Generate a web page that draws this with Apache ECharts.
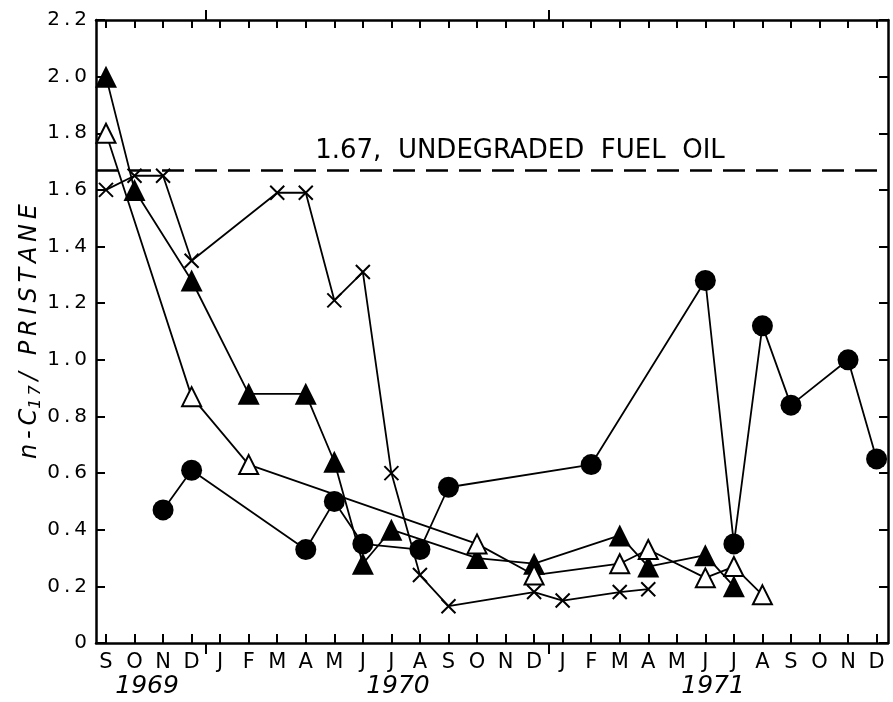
<!DOCTYPE html>
<html>
<head>
<meta charset="utf-8">
<script src="https://cdn.jsdelivr.net/npm/echarts@6/dist/echarts.min.js"></script>
<style>
  html, body { margin: 0; padding: 0; background: #fff; }
  #chart { width: 893px; height: 702px; }
</style>
</head>
<body>
<div id="chart"></div>
<script>
  // months from Sep 1969 (index 0) to Dec 1971 (index 27)
  var monthLabels = ['S','O','N','D','J','F','M','A','M','J','J','A',
                     'S','O','N','D','J','F','M','A','M','J','J','A',
                     'S','O','N','D'];
  var yearLabels = ['1969', '1970', '1971'];
  var yearPositions = [1.44, 10.23, 21.27];
  var yearBreaks = [3.5, 15.5];

  // [month index, n-C17/pristane]
  var circleData = [[2,0.47],[3,0.61],[7,0.33],[8,0.50],[9,0.35],[11,0.33],[12,0.55],
                    [17,0.63],[21,1.28],[22,0.35],[23,1.12],[24,0.84],[26,1.00],[27,0.65]];
  var filledTriData = [[0,2.00],[1,1.60],[3,1.28],[5,0.88],[7,0.88],[8,0.64],[9,0.28],[10,0.40],
                       [13,0.30],[15,0.28],[18,0.38],[19,0.27],[21,0.31],[22,0.20]];
  var openTriData = [[0,1.80],[3,0.87],[5,0.63],[13,0.35],[15,0.24],[18,0.28],[19,0.33],
                     [21,0.23],[22,0.27],[23,0.17]];
  var crossData = [[0,1.60],[1,1.65],[2,1.65],[3,1.35],[6,1.59],[7,1.59],[8,1.21],[9,1.31],
                   [10,0.60],[11,0.24],[12,0.13],[15,0.18],[16,0.15],[18,0.18],[19,0.19]];
  var fuelOilRatio = 1.67;

  var monthIdx = monthLabels.map(function(_, i) { return i; });
  var font = 'DejaVu Sans';
  var xMin = -0.35, xMax = 27.4;
  var thin = '\u2009';

  // spread letters a bit, like the hand lettering
  function spaced(s) { return s.split('').join(thin); }

  function makeSeries(name, data, symbol, size, itemStyle) {
    return {
      name: name,
      type: 'line',
      data: data,
      symbol: symbol,
      symbolSize: size,
      showAllSymbol: true,
      lineStyle: { color: '#000', width: 1.8 },
      itemStyle: itemStyle,
      animation: false,
      z: 3
    };
  }

  var chart = echarts.init(document.getElementById('chart'));
  var series = [
    makeSeries('circle', circleData, 'circle', 21, { color: '#000' }),
    makeSeries('filled', filledTriData, 'triangle', 22, { color: '#000' }),
    makeSeries('open', openTriData, 'triangle', 19, { color: '#fff', borderColor: '#000', borderWidth: 2 }),
    makeSeries('cross', crossData, 'path://M0,0L10,10M10,0L0,10', 14,
      { color: 'rgba(0,0,0,0)', borderColor: '#000', borderWidth: 2 })
  ];
  series[0].markLine = {
    symbol: 'none',
    silent: true,
    animation: false,
    lineStyle: { color: '#000', width: 2.5, type: [22, 11] },
    label: {
      show: true,
      position: 'insideMiddleTop',
      formatter: '1.67,  UNDEGRADED  FUEL  OIL',
      color: '#000',
      fontFamily: font,
      fontSize: 26,
      distance: 6,
      padding: [0, 0, 0, 66]
    },
    data: [[{ coord: [xMin, fuelOilRatio] }, { coord: [27.05, fuelOilRatio] }]]
  };

  function xAxisBase(pos) {
    return {
      type: 'value', position: pos, min: xMin, max: xMax,
      axisLine: { show: false, onZero: false },
      splitLine: { show: false }
    };
  }

  var xBottom = xAxisBase('bottom');
  xBottom.axisLine = { show: true, onZero: false, lineStyle: { color: '#000', width: 2.5 } };
  xBottom.axisTick = { show: true, inside: true, length: 9, customValues: monthIdx,
                       lineStyle: { color: '#000', width: 2 } };
  xBottom.axisLabel = { show: true, customValues: monthIdx, margin: 9, color: '#000',
                        fontFamily: font, fontSize: 21,
                        formatter: function(v) { return monthLabels[Math.round(v)]; } };

  var xTop = xAxisBase('top');
  xTop.axisLine = { show: true, onZero: false, lineStyle: { color: '#000', width: 2.5 } };
  xTop.axisTick = { show: true, inside: true, length: 8, customValues: monthIdx,
                    lineStyle: { color: '#000', width: 2 } };
  xTop.axisLabel = { show: false };

  var xYears = xAxisBase('bottom');
  xYears.axisTick = { show: true, inside: false, length: 11, customValues: yearBreaks,
                      lineStyle: { color: '#000', width: 2 } };
  xYears.axisLabel = { show: true, customValues: yearPositions, margin: 31, color: '#000',
                       fontFamily: font, fontSize: 25, fontStyle: 'italic',
                       formatter: function(v) { return yearLabels[yearPositions.indexOf(v)]; } };

  var xYearsTop = xAxisBase('top');
  xYearsTop.axisTick = { show: true, inside: false, length: 10, customValues: yearBreaks,
                         lineStyle: { color: '#000', width: 2 } };
  xYearsTop.axisLabel = { show: false };

  chart.setOption({
    backgroundColor: '#fff',
    grid: { left: 96, right: 5, top: 20, bottom: 59 },
    xAxis: [xBottom, xTop, xYears, xYearsTop],
    yAxis: [
      {
        type: 'value', position: 'left', min: 0, max: 2.2, interval: 0.2,
        name: '{a|' + spaced('n-C') + '}{b|' + spaced('17') + '}{a|' + thin + spaced('/ PRISTANE') + '}',
        nameLocation: 'middle', nameGap: 52, nameMoveOverlap: false,
        nameTextStyle: {
          color: '#000',
          rich: {
            a: { fontFamily: font, fontSize: 24, fontStyle: 'italic', color: '#000' },
            b: { fontFamily: font, fontSize: 16, fontStyle: 'italic', color: '#000', padding: [12, 0, 0, 0] }
          }
        },
        axisLine: { show: true, onZero: false, lineStyle: { color: '#000', width: 2.5 } },
        axisTick: { show: true, inside: true, length: 9, lineStyle: { color: '#000', width: 2 } },
        axisLabel: { color: '#000', fontFamily: font, fontSize: 20, margin: 9,
                     formatter: function(v) { return v === 0 ? '0' : spaced(v.toFixed(1)); } },
        splitLine: { show: false }
      },
      {
        type: 'value', position: 'right', min: 0, max: 2.2, interval: 0.2,
        axisLine: { show: true, onZero: false, lineStyle: { color: '#000', width: 2.5 } },
        axisTick: { show: true, inside: true, length: 9, lineStyle: { color: '#000', width: 2 } },
        axisLabel: { show: false },
        splitLine: { show: false }
      }
    ],
    series: series
  });
</script>
</body>
</html>
